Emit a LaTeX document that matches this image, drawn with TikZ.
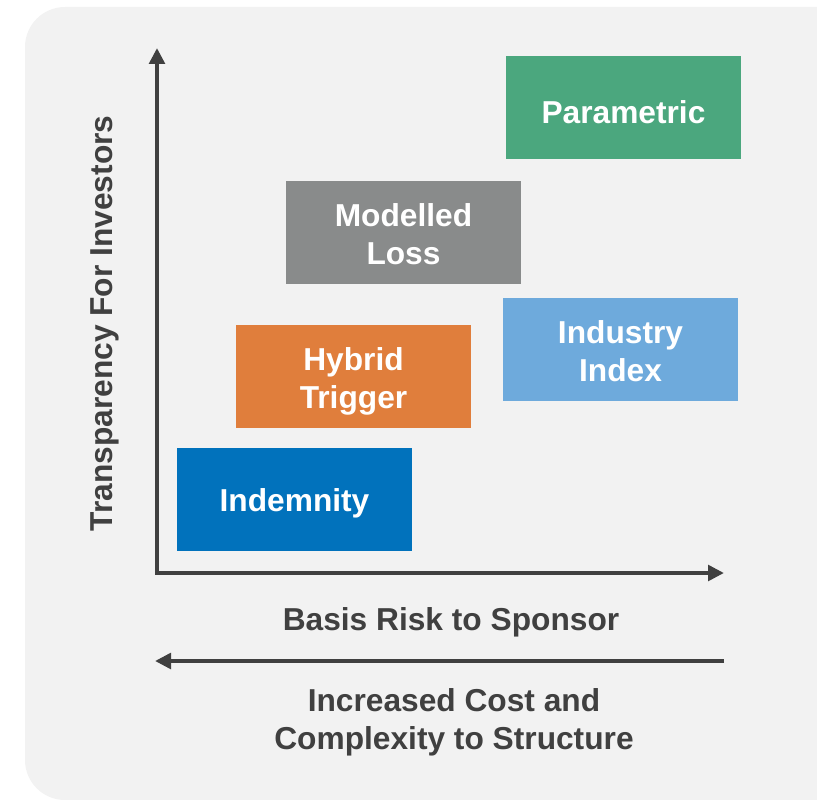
\documentclass[tikz,border=0pt]{standalone}
\usepackage{fontspec}
\setmainfont{Liberation Sans}
\usetikzlibrary{arrows.meta}
\definecolor{bgc}{HTML}{F2F2F2}
\definecolor{axc}{HTML}{404040}
\definecolor{cgreen}{HTML}{4BA77E}
\definecolor{cgray}{HTML}{898B8B}
\definecolor{corange}{HTML}{E07E3C}
\definecolor{clblue}{HTML}{6EAADC}
\definecolor{cblue}{HTML}{0172BC}
\tikzset{
  box/.style={rectangle, minimum width=235pt, minimum height=103pt, inner sep=0pt},
  boxtxt/.style={text=white, align=center, inner sep=0pt,
    font=\fontsize{31.7}{38}\selectfont\bfseries},
  lbl/.style={text=axc, align=center, inner sep=0pt, font=\fontsize{31.7}{38}\selectfont\bfseries},
  axis/.style={draw=axc, line width=4pt, >={Triangle[length=16pt,width=15.5pt]}}
}
\begin{document}
\begin{tikzpicture}[x=1pt,y=-1pt]
\useasboundingbox (0,0) rectangle (817,800);
\clip (0,0) rectangle (817,800);
\fill[bgc, rounded corners=40pt] (25,7) rectangle (900,800);
% axes
\coordinate (ytip) at (157,48);
\coordinate (origin) at (157,573);
\coordinate (xtip) at (724,573);
\draw[axis, <->] (ytip) -- (origin) -- (xtip);
\coordinate (cs) at (724,661);
\coordinate (ce) at (155,661);
\draw[axis, ->] (cs) -- (ce);
% boxes
\node[box, fill=cgreen, label={[boxtxt, yshift=-4.3pt]center:Parametric}] (param) at (623.5,107.5) {};
\node[box, fill=cgray, label={[boxtxt, yshift=-1.8pt]center:{Modelled\\Loss}}] (model) at (403.5,232.5) {};
\node[box, fill=corange, label={[boxtxt, yshift=-4.5pt]center:{Hybrid\\Trigger}}] (hybrid) at (353.5,376.5) {};
\node[box, fill=clblue, label={[boxtxt, yshift=-1.5pt]center:{Industry\\Index}}] (industry) at (620.5,349.5) {};
\node[box, fill=cblue, label={[boxtxt, yshift=-3.9pt]center:Indemnity}] (indem) at (294.5,499.5) {};
% labels
\node[lbl] (basis) at (451,622.3) {Basis Risk to Sponsor};
\node[lbl] (cost) at (454,721.8) {Increased Cost and\\Complexity to Structure};
\node[lbl, rotate=90] (transp) at (105.2,323.5) {Transparency For Investors};
\end{tikzpicture}
\end{document}
